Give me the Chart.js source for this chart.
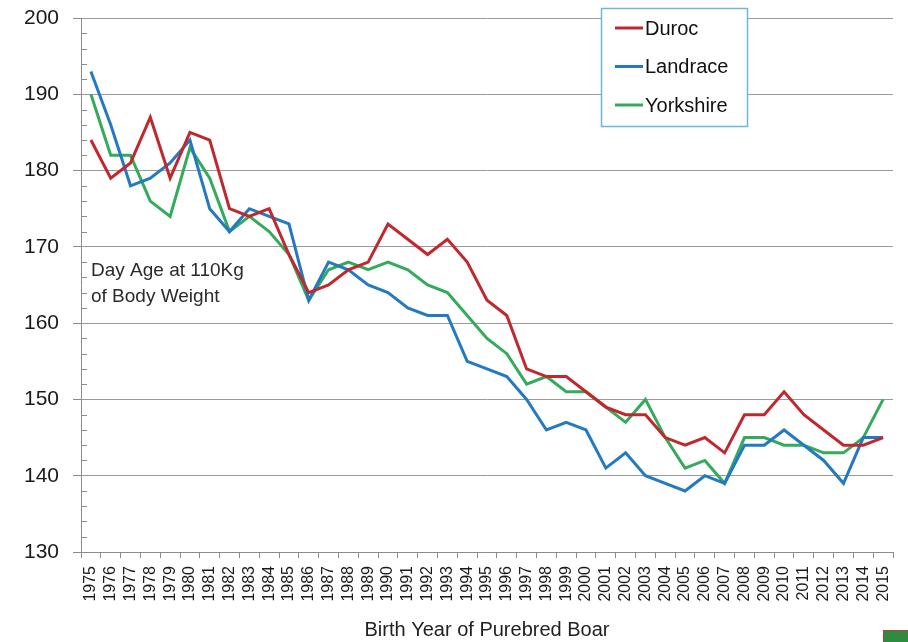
<!DOCTYPE html>
<html>
<head>
<meta charset="utf-8">
<script src="https://cdn.jsdelivr.net/npm/chart.js@4.4.1/dist/chart.umd.min.js"></script>
<style>
  html, body { margin: 0; padding: 0; background: #fff; }
  #wrap { position: relative; width: 908px; height: 642px; overflow: hidden; }
  #corner { position: absolute; left: 883px; top: 630px; width: 25px; height: 12px;
            background: #2f8b3f; border-top: 1px solid #b0403a; border-left: 1px solid #b0403a; }
</style>
</head>
<body>
<div id="wrap">
  <canvas id="c" width="908" height="642"></canvas>
  <div id="corner"></div>
</div>
<script>
const years = ['1975','1976','1977','1978','1979','1980','1981','1982','1983','1984',
  '1985','1986','1987','1988','1989','1990','1991','1992','1993','1994',
  '1995','1996','1997','1998','1999','2000','2001','2002','2003','2004',
  '2005','2006','2007','2008','2009','2010','2011','2012','2013','2014','2015'];

const duroc = [184,179,181,187,179,185,184,175,174,175,
  169,164,165,167,168,173,171,169,171,168,
  163,161,154,153,153,151,149,148,148,145,
  144,145,143,148,148,151,148,146,144,144,145];

const landrace = [193,186,178,179,181,184,175,172,175,174,
  173,163,168,167,165,164,162,161,161,155,
  154,153,150,146,147,146,141,143,140,139,
  138,140,139,144,144,146,144,142,139,145,145];

const yorkshire = [190,182,182,176,174,183,179,172,174,172,
  169,163,167,168,167,168,167,165,164,161,
  158,156,152,153,151,151,149,147,150,145,
  141,142,139,145,145,144,144,143,143,145,150];

const seriesNames = ['Duroc', 'Landrace', 'Yorkshire'];
const seriesColors = ['#c1282e', '#2379c2', '#33ab5b'];
const yTicks = [130, 140, 150, 160, 170, 180, 190, 200];
const xTitle = 'Birth Year of Purebred Boar';
const noteLines = ['Day Age at 110Kg', 'of Body Weight'];

const extras = {
  id: 'extras',
  afterDraw(chart) {
    const ctx = chart.ctx;
    const ys = chart.scales.y;
    const area = chart.chartArea;
    ctx.save();
    // minor ticks on the y axis (every 2 units, inside)
    ctx.strokeStyle = '#8c8c8c';
    ctx.lineWidth = 1;
    for (let v = ys.min + 2; v < ys.max; v += 2) {
      if (v % 10 === 0) continue;
      const py = Math.round(ys.getPixelForValue(v)) + 0.5;
      ctx.beginPath();
      ctx.moveTo(area.left, py);
      ctx.lineTo(area.left + 6, py);
      ctx.stroke();
    }
    // annotation text
    ctx.fillStyle = '#2a2a2a';
    ctx.font = '19px "Liberation Sans", Arial, sans-serif';
    ctx.textBaseline = 'alphabetic';
    ctx.textAlign = 'left';
    ctx.fillText(noteLines[0], 91, 276);
    ctx.fillText(noteLines[1], 91, 302);
    // legend box
    const bx = 601, by = 8, bw = 146, bh = 118;
    ctx.fillStyle = '#ffffff';
    ctx.fillRect(bx, by, bw, bh);
    ctx.strokeStyle = '#6cb8dc';
    ctx.lineWidth = 1.5;
    ctx.strokeRect(bx + 0.5, by + 0.5, bw, bh);
    ctx.font = '20px "Liberation Sans", Arial, sans-serif';
    ctx.textBaseline = 'middle';
    chart.data.datasets.forEach((ds, i) => {
      const ly = 28 + i * 38.5;
      ctx.strokeStyle = ds.borderColor;
      ctx.lineWidth = 3;
      ctx.beginPath();
      ctx.moveTo(615, ly);
      ctx.lineTo(643, ly);
      ctx.stroke();
      ctx.fillStyle = '#111';
      ctx.fillText(ds.label, 645, ly + 1);
    });
    ctx.restore();
  }
};

new Chart(document.getElementById('c'), {
  type: 'line',
  data: {
    labels: years,
    datasets: [
      { label: seriesNames[0], data: duroc, borderColor: seriesColors[0] },
      { label: seriesNames[1], data: landrace, borderColor: seriesColors[1] },
      { label: seriesNames[2], data: yorkshire, borderColor: seriesColors[2] }
    ].map(d => Object.assign(d, { borderWidth: 3, pointRadius: 0, tension: 0, fill: false, backgroundColor: d.borderColor }))
  },
  options: {
    responsive: false,
    animation: false,
    devicePixelRatio: 1,
    layout: { padding: { left: 0, right: 15, top: 18, bottom: 0 } },
    plugins: { legend: { display: false }, tooltip: { enabled: false } },
    scales: {
      x: {
        type: 'category',
        offset: true,
        grid: { display: true, drawOnChartArea: false, offset: true, tickLength: 6, color: '#8c8c8c' },
        border: { display: true, color: '#8c8c8c', width: 1 },
        ticks: {
          autoSkip: false, maxRotation: 90, minRotation: 90, padding: 8,
          color: '#1a1a1a', font: { family: '"Liberation Sans", Arial, sans-serif', size: 16 }
        },
        title: {
          display: true, text: xTitle, color: '#222',
          font: { family: '"Liberation Sans Narrow", "Liberation Sans", Arial, sans-serif', size: 20 },
          padding: { top: 0, bottom: 0 }
        },
        afterFit(scale) { scale.height = 90; scale.paddingLeft = 0; scale.paddingRight = 0; }
      },
      y: {
        min: 130, max: 200,
        afterBuildTicks(scale) { scale.ticks = yTicks.map(v => ({ value: v })); },
        grid: { color: '#9a9a9a', tickLength: 8, tickColor: '#8c8c8c' },
        border: { display: true, color: '#8c8c8c', width: 1 },
        ticks: {
          padding: 14, color: '#1a1a1a',
          font: { family: '"Liberation Sans", Arial, sans-serif', size: 21 }
        },
        afterFit(scale) { scale.width = 81; scale.paddingTop = 0; scale.paddingBottom = 0; }
      }
    }
  },
  plugins: [extras]
});
</script>
</body>
</html>
